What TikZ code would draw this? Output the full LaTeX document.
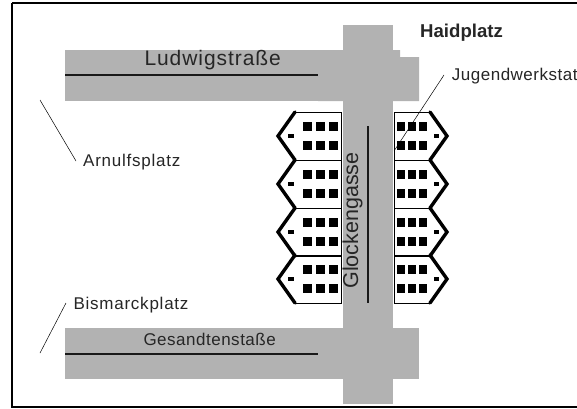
\documentclass[tikz,border=0pt]{standalone}
\usepackage{fontspec}
\setmainfont{Liberation Sans}
\newfontfamily\lsa[LetterSpace=3]{Liberation Sans}
\newfontfamily\lsb[LetterSpace=4.5]{Liberation Sans}
\definecolor{road}{gray}{0.70}
\tikzset{
  x=1pt,y=-1pt,
  centre/.style={draw=black!90,line width=1.2pt},
  leader/.style={draw=black,line width=0.5pt},
  lbl/.style={inner sep=0pt,text=black!85,anchor=base west},
  win/.style={fill=black,draw=none},
  thinwall/.style={draw=black,line width=0.7pt},
  thickwall/.style={draw=black,line width=3.4pt,line cap=round,line join=miter},
}
\newcommand{\houseL}[1]{%
  \begin{scope}[shift={(0,#1)}]
    \draw[thinwall] (341,0)--(295,0);
    \draw[thinwall] (341,0)--(341,48)--(295,48);
    \draw[thickwall] (295,0)--(278,24)--(295,48);
    \foreach \xx in {303,316,329}{
      \fill[win] (\xx,10) rectangle +(9,9);
      \fill[win] (\xx,29) rectangle +(9,9);
    }
    \fill[win] (288,22) rectangle (294,26);
  \end{scope}}
\newcommand{\houseR}[1]{%
  \begin{scope}[shift={(0,#1)}]
    \draw[thinwall] (394,0)--(430,0);
    \draw[thinwall] (394,0)--(394,48)--(430,48);
    \draw[thickwall] (430,0)--(447,24)--(430,48);
    \foreach \xx in {397,408,419}{
      \fill[win] (\xx,10) rectangle +(8,9);
      \fill[win] (\xx,29) rectangle +(8,9);
    }
    \fill[win] (434,22) rectangle (439,26);
  \end{scope}}
\begin{document}
\begin{tikzpicture}
\useasboundingbox (0,0) rectangle (577,408);
\fill[white] (0,0) rectangle (577,408);
\fill[road] (65,50) rectangle (318,101);
\fill[road] (65,328) rectangle (318,379);
\fill[road] (343,25) rectangle (393,404);
\fill[road] (318,50)--(400,50)--(400,57)--(419,57)--(419,101)--(318,101)--cycle;
\fill[road] (318,328) rectangle (419,379);
\foreach \yy in {112,160,208,255}{\houseL{\yy}\houseR{\yy}}
\coordinate (l1a) at (65,75); \coordinate (l1b) at (318,75);
\coordinate (l2a) at (65,354); \coordinate (l2b) at (318,354);
\coordinate (l3a) at (368,126); \coordinate (l3b) at (368,303);
\draw[centre] (l1a)--(l1b);
\draw[centre] (l2a)--(l2b);
\draw[centre] (l3a)--(l3b);
\node[lbl,font=\lsb\fontsize{21}{21}\selectfont] (ludwig) at (144.3,65) {Ludwigstraße};
\node[lbl,font=\lsa\fontsize{17}{17}\selectfont] (gesandt) at (143.3,345.7) {Gesandtenstaße};
\node[lbl,anchor=base,font=\fontsize{21.5}{21.5}\selectfont,rotate=90] (glocke) at (358,220.5) {Glockengasse};
\node[lbl,font=\bfseries\fontsize{18.6}{18.6}\selectfont] (haid) at (420,37.5) {Haidplatz};
\node[lbl,font=\lsa\fontsize{17}{17}\selectfont] (jugend) at (451.7,80) {Jugendwerkstat};
\node[lbl,font=\lsb\fontsize{17}{17}\selectfont] (arnulf) at (83,166.7) {Arnulfsplatz};
\node[lbl,font=\lsb\fontsize{17}{17}\selectfont] (bismarck) at (73.3,309) {Bismarckplatz};
\coordinate (a1) at (40,100); \coordinate (a2) at (76,161);
\coordinate (b1) at (40,353); \coordinate (b2) at (66,303);
\coordinate (j1) at (444,75); \coordinate (j2) at (394,151);
\draw[leader] (a1)--(a2);
\draw[leader] (b1)--(b2);
\draw[leader] (j1)--(j2);
\draw[draw=black,line width=2pt] (12,3)--(577,3);
\draw[draw=black,line width=2pt] (12,3)--(12,407)--(577,407);
\end{tikzpicture}
\end{document}
